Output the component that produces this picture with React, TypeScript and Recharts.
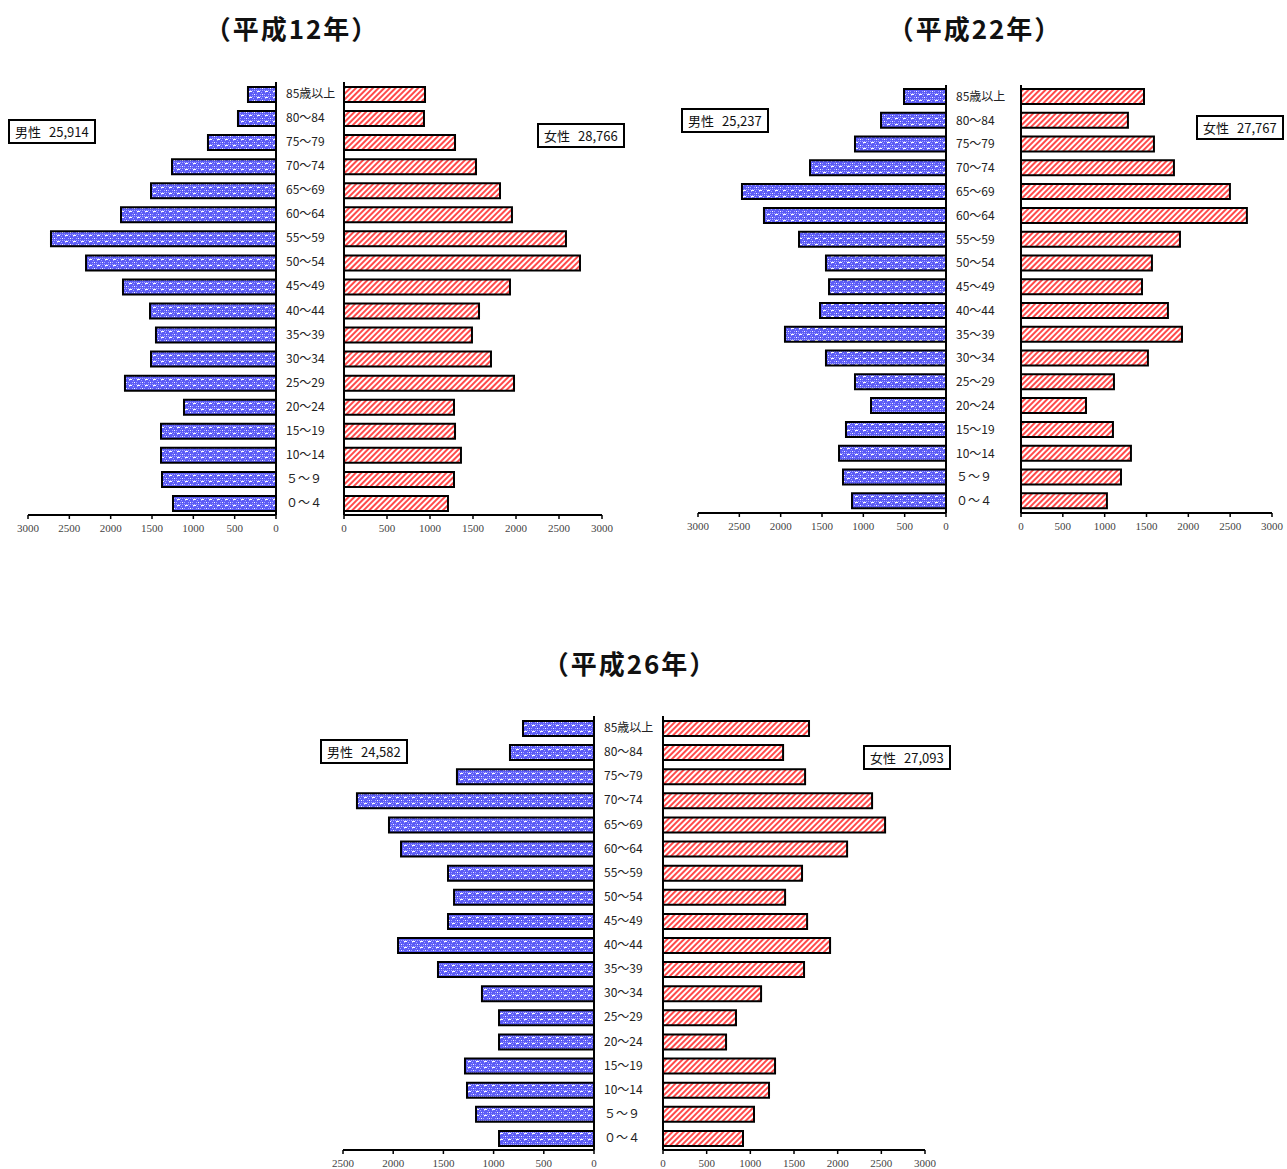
import React from 'react';
import { BarChart, Bar, XAxis, YAxis } from 'recharts';

const ages = ['85歳以上', '80～84', '75～79', '70～74', '65～69', '60～64', '55～59', '50～54', '45～49', '40～44', '35～39', '30～34', '25～29', '20～24', '15～19', '10～14', '５～９', '０～４'];

const maleH12 = [339, 460, 823, 1258, 1512, 1875, 2722, 2298, 1851, 1524, 1452, 1512, 1827, 1113, 1391, 1391, 1379, 1246];
const femaleH12 = [942, 930, 1291, 1535, 1814, 1953, 2581, 2744, 1930, 1570, 1488, 1709, 1977, 1279, 1291, 1360, 1279, 1209];
const maleH22 = [508, 786, 1101, 1645, 2468, 2202, 1778, 1452, 1415, 1524, 1948, 1452, 1101, 907, 1210, 1294, 1246, 1137];
const femaleH22 = [1470, 1278, 1589, 1828, 2497, 2700, 1900, 1565, 1446, 1756, 1924, 1517, 1111, 777, 1099, 1314, 1195, 1027];
const maleH26 = [707, 837, 1365, 2361, 2042, 1922, 1454, 1394, 1454, 1952, 1554, 1116, 946, 946, 1285, 1265, 1175, 946];
const femaleH26 = [1672, 1375, 1627, 2394, 2543, 2108, 1592, 1398, 1650, 1913, 1615, 1123, 836, 722, 1283, 1214, 1042, 916];

const ticks3000 = [0, 500, 1000, 1500, 2000, 2500, 3000];
const ticks2500 = [0, 500, 1000, 1500, 2000, 2500];

const titles = ['（平成12年）', '（平成22年）', '（平成26年）'];
const maleTotals = ['25,914', '25,237', '24,582'];
const femaleTotals = ['28,766', '27,767', '27,093'];

const FONT_JP = '"Noto Sans CJK JP", "Noto Sans", sans-serif';
const FONT_SERIF = '"Liberation Serif", "DejaVu Serif", serif';

const buildRows = (male: number[], female: number[]) =>
  ages.map((age, i) => ({ age, male: male[i], female: female[i] }));

const AgeTick = (props: any) => {
  const { x, y, payload } = props;
  return (
    <text x={x} y={y} dy={4} textAnchor="start" fontSize={12} fontFamily={FONT_JP} fill="#222">
      {payload.value}
    </text>
  );
};

const Patterns = ({ id }: { id: string }) => (
  <defs>
    <pattern id={`blue-${id}`} width={8} height={6} patternUnits="userSpaceOnUse">
      <rect width={8} height={6} fill="#5c5cf6" />
      <rect x={0} y={0} width={1} height={1} fill="#a8a8ff" />
      <rect x={2} y={0} width={1} height={1} fill="#a8a8ff" />
      <rect x={4} y={0} width={1} height={1} fill="#a8a8ff" />
      <rect x={6} y={0} width={1} height={1} fill="#a8a8ff" />
      <rect x={1} y={2} width={1} height={1} fill="#a8a8ff" />
      <rect x={5} y={2} width={1} height={1} fill="#a8a8ff" />
      <rect x={0} y={4} width={1} height={1} fill="#a8a8ff" />
      <rect x={4} y={4} width={1} height={1} fill="#a8a8ff" />
      <rect x={1} y={1} width={3} height={1} fill="#ffffff" />
      <rect x={6} y={4} width={1} height={1} fill="#ffffff" />
    </pattern>
    <pattern id={`red-${id}`} width={4} height={4} patternUnits="userSpaceOnUse" patternTransform="rotate(45)">
      <rect width={4} height={4} fill="#ffffff" />
      <line x1={1} y1={0} x2={1} y2={4} stroke="#ff2a2a" strokeWidth={1.7} />
    </pattern>
  </defs>
);

type PyramidProps = {
  id: string;
  male: number[];
  female: number[];
  top: number;
  height: number;
  left: [number, number];
  right: [number, number];
  leftMax: number;
  leftTicks: number[];
  title: string;
  titleX: number;
  titleY: number;
  maleLabel: string;
  femaleLabel: string;
  maleBox: [number, number];
  femaleBox: [number, number];
};

const axisLine = { stroke: '#000', strokeWidth: 2 };
const tickStyle = { fontSize: 11, fontFamily: FONT_SERIF, fill: '#444' };

const boxStyle = (x: number, y: number): React.CSSProperties => ({
  position: 'absolute',
  left: x,
  top: y,
  border: '2px solid #000',
  background: '#fff',
  padding: '2px 5px',
  fontFamily: FONT_JP,
  fontSize: 13,
  lineHeight: '17px',
  whiteSpace: 'nowrap',
  color: '#111',
});

const LegendBox = ({ x, y, label, total }: { x: number; y: number; label: string; total: string }) => (
  <div style={boxStyle(x, y)}>
    {label}
    <span style={{ marginLeft: 8 }}>{total}</span>
  </div>
);

const Pyramid = (p: PyramidProps) => {
  const rows = buildRows(p.male, p.female);
  const lw = p.left[1] - p.left[0];
  const rw = p.right[1] - p.right[0];
  return (
    <>
      <div
        style={{
          position: 'absolute',
          left: p.titleX,
          top: p.titleY,
          transform: 'translate(-50%, -50%)',
          fontFamily: FONT_JP,
          fontWeight: 700,
          fontSize: 26,
          letterSpacing: 2,
          whiteSpace: 'nowrap',
          color: '#111',
        }}
      >
        {p.title}
      </div>
      <div style={{ position: 'absolute', left: p.left[0] - 20, top: p.top - 10 }}>
        <BarChart
          layout="vertical"
          width={20 + lw + 70}
          height={10 + p.height + 30}
          data={rows}
          margin={{ top: 10, right: 0, bottom: 0, left: 20 }}
          barSize={15}
        >
          <Patterns id={p.id} />
          <XAxis
            type="number"
            domain={[0, p.leftMax]}
            ticks={p.leftTicks}
            reversed
            allowDataOverflow
            height={30}
            axisLine={axisLine}
            tickLine={{ stroke: '#000', strokeWidth: 1.5 }}
            tickSize={4}
            tickMargin={5}
            tick={tickStyle}
            interval={0}
          />
          <YAxis
            type="category"
            dataKey="age"
            orientation="right"
            width={70}
            axisLine={axisLine}
            tickLine={false}
            tickSize={0}
            tickMargin={10}
            tick={<AgeTick />}
            interval={0}
          />
          <Bar dataKey="male" fill={`url(#blue-${p.id})`} stroke="#000" strokeWidth={2} isAnimationActive={false} />
        </BarChart>
      </div>
      <div style={{ position: 'absolute', left: p.right[0] - 13, top: p.top - 10 }}>
        <BarChart
          layout="vertical"
          width={13 + rw + 20}
          height={10 + p.height + 30}
          data={rows}
          margin={{ top: 10, right: 20, bottom: 0, left: 12 }}
          barSize={15}
        >
          <Patterns id={p.id + 'r'} />
          <XAxis
            type="number"
            domain={[0, 3000]}
            ticks={ticks3000}
            allowDataOverflow
            height={30}
            axisLine={axisLine}
            tickLine={{ stroke: '#000', strokeWidth: 1.5 }}
            tickSize={4}
            tickMargin={5}
            tick={tickStyle}
            interval={0}
          />
          <YAxis type="category" dataKey="age" width={1} axisLine={axisLine} tickLine={false} tick={false} />
          <Bar dataKey="female" fill={`url(#red-${p.id}r)`} stroke="#000" strokeWidth={2} isAnimationActive={false} />
        </BarChart>
      </div>
      <LegendBox x={p.maleBox[0]} y={p.maleBox[1]} label="男性" total={p.maleLabel} />
      <LegendBox x={p.femaleBox[0]} y={p.femaleBox[1]} label="女性" total={p.femaleLabel} />
    </>
  );
};

export default function App() {
  return (
    <div style={{ position: 'absolute', left: 0, top: 0, width: 1287, height: 1169, background: '#fff', overflow: 'hidden' }}>
      <Pyramid
        id="h12"
        male={maleH12}
        female={femaleH12}
        top={82}
        height={433}
        left={[28, 276]}
        right={[344, 602]}
        leftMax={3000}
        leftTicks={ticks3000}
        title={titles[0]}
        titleX={292}
        titleY={27}
        maleLabel={maleTotals[0]}
        femaleLabel={femaleTotals[0]}
        maleBox={[8, 119]}
        femaleBox={[537, 123]}
      />
      <Pyramid
        id="h22"
        male={maleH22}
        female={femaleH22}
        top={85}
        height={428}
        left={[698, 946]}
        right={[1021, 1272]}
        leftMax={3000}
        leftTicks={ticks3000}
        title={titles[1]}
        titleX={975}
        titleY={27}
        maleLabel={maleTotals[1]}
        femaleLabel={femaleTotals[1]}
        maleBox={[681, 108]}
        femaleBox={[1196, 115]}
      />
      <Pyramid
        id="h26"
        male={maleH26}
        female={femaleH26}
        top={716}
        height={434}
        left={[343, 594]}
        right={[663, 925]}
        leftMax={2500}
        leftTicks={ticks2500}
        title={titles[2]}
        titleX={630}
        titleY={662}
        maleLabel={maleTotals[2]}
        femaleLabel={femaleTotals[2]}
        maleBox={[320, 739]}
        femaleBox={[863, 745]}
      />
    </div>
  );
}
